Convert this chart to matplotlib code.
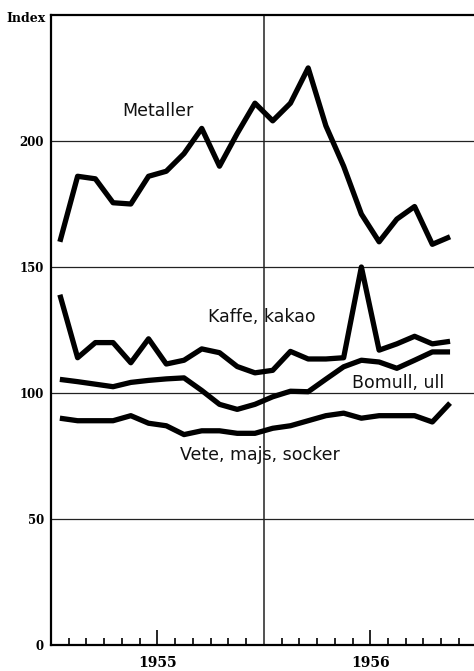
import matplotlib.pyplot as plt
import numpy as np

# monthly index values, Jan 1955 - Nov 1956
months = np.arange(23) + 0.5
metaller = [160, 186, 185, 175.5, 175, 186, 188, 195, 205, 190, 203, 215,
            208, 215, 229, 206, 190, 171, 160, 169, 174, 159, 162]
kaffe = [139, 114, 120, 120, 112, 121.5, 111.5, 113, 117.5, 116, 110.5, 108,
         109, 116.5, 113.5, 113.5, 114, 150, 117, 119.5, 122.5, 119.5, 120.5]
bomull = [105.4, 104.5, 103.5, 102.5, 104.2, 105, 105.6, 106, 101, 95.5, 93.5, 95.5,
          98.5, 100.7, 100.5, 105.5, 110.4, 113, 112.3, 109.8, 113, 116.3, 116.3]
vete = [90, 89, 89, 89, 91, 88, 87, 83.5, 85, 85, 84, 84,
        86, 87, 89, 91, 92, 90, 91, 91, 91, 88.5, 96]

series = [metaller, kaffe, bomull, vete]
labels = ['Metaller', 'Kaffe, kakao', 'Bomull, ull', 'Vete, majs, socker']
label_pos = [(6.0, 212), (11.9, 130), (19.6, 104), (11.8, 75.5)]

y_ticks = [0, 50, 100, 150, 200]
year_ticks = [6, 18]
year_labels = ['1955', '1956']

fig = plt.figure(figsize=(4.74, 6.71), dpi=100)
ax = fig.add_axes([51 / 474, 26 / 671, 423 / 474, 630 / 671])

for vals in series:
    ax.plot(months, vals, color='black', lw=3.8, solid_joinstyle='round',
            solid_capstyle='butt')

for txt, (tx, ty) in zip(labels, label_pos):
    ax.text(tx, ty, txt, ha='center', va='center', fontsize=12.5,
            family='DejaVu Sans', color='#111111')

ax.set_xlim(0, 23.85)
ax.set_ylim(0, 250)

# grid
for yv in y_ticks[1:]:
    ax.axhline(yv, color='#222222', lw=0.9, zorder=0)
ax.axvline(12, color='#222222', lw=1.1, zorder=0)

ax.spines['right'].set_visible(False)
for s in ['left', 'bottom', 'top']:
    ax.spines[s].set_linewidth(1.6)

ax.set_yticks(y_ticks)
ax.set_yticklabels([str(v) for v in y_ticks], fontsize=8.5, fontweight='bold',
                   family='DejaVu Serif')
ax.tick_params(axis='y', length=0, pad=5)

minor = [m for m in range(1, 24) if m not in (6, 12, 18)]
ax.set_xticks(minor, minor=True)
ax.set_xticks(year_ticks)
ax.set_xticklabels(year_labels, fontsize=10, fontweight='bold', family='DejaVu Serif')
ax.tick_params(axis='x', which='major', direction='in', length=11, width=1.2, pad=8)
ax.tick_params(axis='x', which='minor', direction='in', length=5, width=1.2)

fig.text(46 / 474, 1 - 19 / 671, 'Index', ha='right', va='center', fontsize=9,
         fontweight='bold', family='DejaVu Serif')

fig.savefig('out.png', dpi=100)
